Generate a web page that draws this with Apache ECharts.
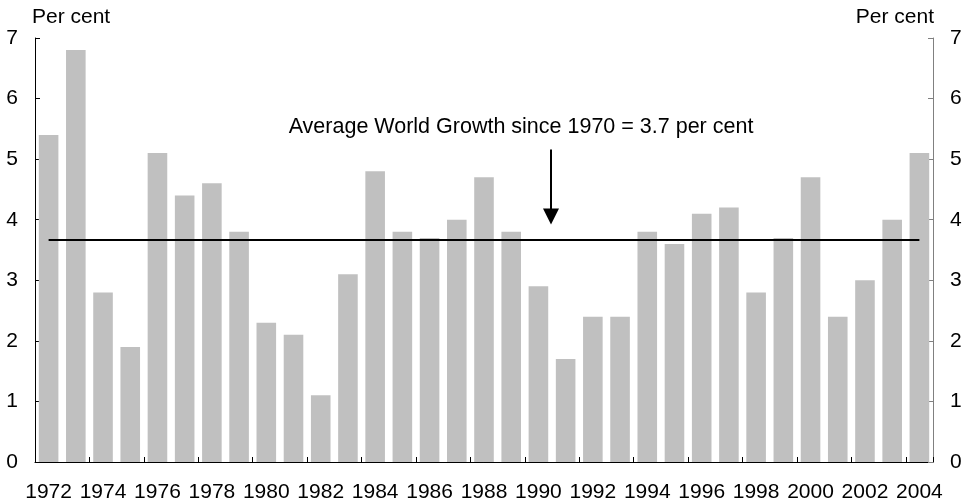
<!DOCTYPE html>
<html><head><meta charset="utf-8">
<script src="https://cdn.jsdelivr.net/npm/echarts@6/dist/echarts.min.js"></script>
<style>html,body{margin:0;padding:0;background:#fff}#c{width:965px;height:503px}</style>
</head><body><div id="c"></div>
<script>
var years = ['1972','1973','1974','1975','1976','1977','1978','1979','1980','1981','1982','1983','1984','1985','1986','1987','1988','1989','1990','1991','1992','1993','1994','1995','1996','1997','1998','1999','2000','2001','2002','2003','2004'];
var growth = [5.4,6.8,2.8,1.9,5.1,4.4,4.6,3.8,2.3,2.1,1.1,3.1,4.8,3.8,3.7,4.0,4.7,3.8,2.9,1.7,2.4,2.4,3.8,3.6,4.1,4.2,2.8,3.7,4.7,2.4,3.0,4.0,5.1];
var averageGrowth = 3.67;
var annotationText = 'Average World Growth since 1970 = 3.7 per cent';

var FONT = 'Liberation Sans, Arial, sans-serif';
var FS = 21;
var chart = echarts.init(document.getElementById('c'), null, {renderer:'canvas'});
var yAxisBase = function(pos, color){
  return {
    type:'value', position:pos, min:0, max:7, interval:1,
    name:'Per cent', nameLocation:'end', nameGap:10,
    nameTextStyle:{color:'#000', fontSize:FS, fontFamily:FONT, align: pos==='left'?'left':'right', padding: pos==='left'?[0,0,0,-3]:[0,-1,0,0]},
    axisLine:{show:true, lineStyle:{color:color, width:1}},
    axisTick:{show:true, inside:true, length:5, lineStyle:{color:color}},
    axisLabel:{color:'#000', fontSize:FS, fontFamily:FONT, margin:17},
    splitLine:{show:false}
  };
};
chart.setOption({
  animation:false,
  grid:{left:35, right:32, top:38, bottom:40, containLabel:false},
  xAxis:{
    type:'category', data:years, boundaryGap:true,
    axisLine:{lineStyle:{color:'#000', width:1}},
    axisTick:{show:true, inside:true, length:5, interval:1, lineStyle:{color:'#000'}},
    axisLabel:{color:'#000', fontSize:FS, fontFamily:FONT, interval:1, margin:20}
  },
  yAxis:[yAxisBase('left','#000'), yAxisBase('right','#808080')],
  series:[{
    type:'bar', data:growth, barCategoryGap:'28%',
    itemStyle:{color:'#c0c0c0'},
    markLine:{
      silent:true, symbol:['none','none'],
      lineStyle:{color:'#000', width:2, type:'solid'},
      label:{show:false},
      data:[[{coord:[years[0], averageGrowth]},{coord:[years[years.length-1], averageGrowth]}]]
    }
  }]
});

var p1 = chart.convertToPixel({xAxisIndex:0, yAxisIndex:0}, ['1990', 0]);
var p2 = chart.convertToPixel({xAxisIndex:0, yAxisIndex:0}, ['1991', 0]);
var ax = Math.round((p1[0]+p2[0])/2) - 1;
var tipY = chart.convertToPixel({yAxisIndex:0}, 3.92);
var topY = chart.convertToPixel({yAxisIndex:0}, 5.16);
chart.setOption({graphic:[
  {type:'line', shape:{x1:ax, y1:topY, x2:ax, y2:tipY-14}, style:{stroke:'#000', lineWidth:2}},
  {type:'polygon', shape:{points:[[ax-8,tipY-16],[ax+8,tipY-16],[ax,tipY]]}, style:{fill:'#000'}},
  {type:'text', x:ax-30, y:topY-22, style:{text:annotationText, fill:'#000', font:'21.5px '+FONT, textAlign:'center', textVerticalAlign:'middle'}}
]});
</script></body></html>
